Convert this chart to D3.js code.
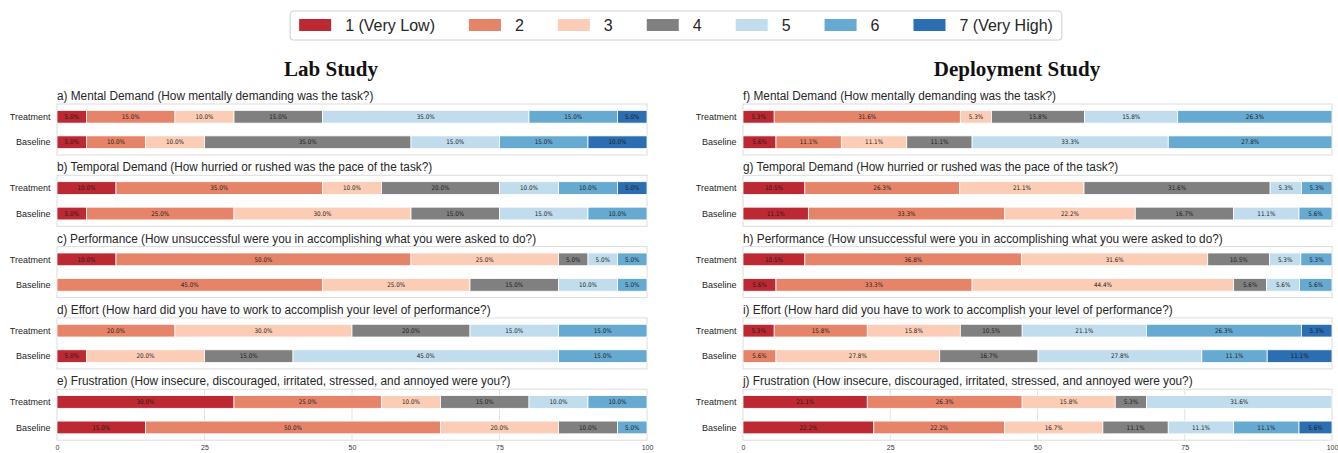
<!DOCTYPE html>
<html>
<head>
<meta charset="utf-8">
<script src="https://cdn.jsdelivr.net/npm/d3@7"></script>
<style>
body { margin: 0; background: #fff; }
svg { font-family: "Liberation Sans", Arial, sans-serif; }
.seg-label { font-family: "Liberation Sans Narrow", "DejaVu Sans Condensed", "Liberation Sans", sans-serif; font-stretch: condensed; }
</style>
</head>
<body>
<svg width="1338" height="453"></svg>
<script>
// rating levels + colours
const levels = ["1 (Very Low)", "2", "3", "4", "5", "6", "7 (Very High)"];
const colors = ["#bd2933", "#e6846a", "#fbcdb6", "#808080", "#c1dcec", "#66aad1", "#2b6fb2"];
const groups = ["Treatment", "Baseline"];
const xTicks = [0, 25, 50, 75, 100];

// Lab study
const labTitles = [
  "a) Mental Demand (How mentally demanding was the task?)",
  "b) Temporal Demand (How hurried or rushed was the pace of the task?)",
  "c) Performance (How unsuccessful were you in accomplishing what you were asked to do?)",
  "d) Effort (How hard did you have to work to accomplish your level of performance?)",
  "e) Frustration (How insecure, discouraged, irritated, stressed, and annoyed were you?)"
];
const labTreatment = [
  [5, 15, 10, 15, 35, 15, 5],
  [10, 35, 10, 20, 10, 10, 5],
  [10, 50, 25, 5, 5, 5, 0],
  [0, 20, 30, 20, 15, 15, 0],
  [30, 25, 10, 15, 10, 10, 0]
];
const labBaseline = [
  [5, 10, 10, 35, 15, 15, 10],
  [5, 25, 30, 15, 15, 10, 0],
  [0, 45, 25, 15, 10, 5, 0],
  [5, 0, 20, 15, 45, 15, 0],
  [15, 50, 20, 10, 0, 5, 0]
];

// Deployment study
const depTitles = [
  "f) Mental Demand (How mentally demanding was the task?)",
  "g) Temporal Demand (How hurried or rushed was the pace of the task?)",
  "h) Performance (How unsuccessful were you in accomplishing what you were asked to do?)",
  "i) Effort (How hard did you have to work to accomplish your level of performance?)",
  "j) Frustration (How insecure, discouraged, irritated, stressed, and annoyed were you?)"
];
const depTreatment = [
  [5.3, 31.6, 5.3, 15.8, 15.8, 26.3, 0],
  [10.5, 26.3, 21.1, 31.6, 5.3, 5.3, 0],
  [10.5, 36.8, 31.6, 10.5, 5.3, 5.3, 0],
  [5.3, 15.8, 15.8, 10.5, 21.1, 26.3, 5.3],
  [21.1, 26.3, 15.8, 5.3, 31.6, 0, 0]
];
const depBaseline = [
  [5.6, 11.1, 11.1, 11.1, 33.3, 27.8, 0],
  [11.1, 33.3, 22.2, 16.7, 11.1, 5.6, 0],
  [5.6, 33.3, 44.4, 5.6, 5.6, 5.6, 0],
  [0, 5.6, 27.8, 16.7, 27.8, 11.1, 11.1],
  [22.2, 22.2, 16.7, 11.1, 11.1, 11.1, 5.6]
];

const svg = d3.select("svg");
const color = d3.scaleOrdinal().domain(levels).range(colors);

const panelTop = 104, panelH = 51, pitch = 71.3;

function drawStudy(title, titleX, x0, x1, titles, treat, base) {
  const x = d3.scaleLinear().domain([0, 100]).range([x0, x1]);

  svg.append("text")
    .attr("x", titleX).attr("y", 76)
    .attr("text-anchor", "middle")
    .style("font-family", "'Liberation Serif', 'DejaVu Serif', serif")
    .style("font-weight", "bold")
    .style("font-size", "21px")
    .attr("fill", "#111")
    .text(title);

  titles.forEach(function(t, i) {
    const top = panelTop + i * pitch;
    const y = d3.scaleBand().domain(groups).range([top, top + panelH])
      .paddingInner(0.5).paddingOuter(0.25);
    const g = svg.append("g");

    // titles in the figure look squeezed sideways a bit
    g.append("text")
      .attr("transform", "translate(" + x0 + "," + (top - 4) + ") scale(0.945,1)")
      .style("font-size", "12.5px")
      .attr("fill", "#262626")
      .text(t);

    // bottom panel gets the grid + ticks
    if (i == titles.length - 1) {
      g.selectAll(".grid").data(xTicks.slice(1, -1)).enter()
        .append("line")
        .attr("x1", d => x(d)).attr("x2", d => x(d))
        .attr("y1", top).attr("y2", top + panelH)
        .attr("stroke", "#e3e3e3").attr("stroke-width", 1);

      const ax = g.append("g")
        .attr("transform", "translate(0," + (top + panelH) + ")")
        .call(d3.axisBottom(x).tickValues(xTicks).tickSize(0).tickPadding(5));
      ax.select(".domain").remove();
      ax.selectAll("text").style("font-size", "7px").attr("fill", "#333")
        .style("font-family", "'Liberation Sans', Arial, sans-serif");
    }

    g.append("rect")
      .attr("x", x0).attr("y", top)
      .attr("width", x1 - x0).attr("height", panelH)
      .attr("fill", "none").attr("stroke", "#dcdcdc").attr("stroke-width", 1);

    [treat[i], base[i]].forEach(function(vals, k) {
      const ends = d3.cumsum(vals);
      const segs = vals.map((v, j) => ({ v: v, start: ends[j] - v, end: ends[j], level: levels[j] }))
        .filter(d => d.v > 0);

      g.selectAll(".seg" + k).data(segs).enter()
        .append("rect")
        .attr("x", d => x(d.start))
        .attr("width", d => x(Math.min(d.end, 100)) - x(d.start))
        .attr("y", y(groups[k]))
        .attr("height", y.bandwidth())
        .attr("fill", d => color(d.level))
        .attr("stroke", "#fff").attr("stroke-width", 0.8);

      g.selectAll(".lab" + k).data(segs).enter()
        .append("text")
        .attr("class", "seg-label")
        .attr("x", d => x((d.start + Math.min(d.end, 100)) / 2))
        .attr("y", y(groups[k]) + y.bandwidth() / 2)
        .attr("dy", "0.35em")
        .attr("text-anchor", "middle")
        .style("font-size", "6.3px")
        .attr("fill", "#1a1a1a")
        .text(d => d.v.toFixed(1) + "%");

      g.append("text")
        .attr("x", x0 - 6.5)
        .attr("y", y(groups[k]) + y.bandwidth() / 2)
        .attr("dy", "0.35em")
        .attr("text-anchor", "end")
        .style("font-size", "9px")
        .attr("fill", "#262626")
        .text(groups[k]);
    });
  });
}

drawStudy("Lab Study", 331, 57, 647, labTitles, labTreatment, labBaseline);
drawStudy("Deployment Study", 1017, 743, 1332, depTitles, depTreatment, depBaseline);

// legend
const leg = svg.append("g");
const legBox = leg.append("rect")
  .attr("y", 11).attr("height", 29).attr("rx", 3)
  .attr("fill", "#fff").attr("stroke", "#d0d0d0").attr("stroke-width", 1);
let cx = 0;
const items = leg.append("g");
levels.forEach(function(l, i) {
  items.append("rect")
    .attr("x", cx).attr("y", 19).attr("width", 32).attr("height", 12)
    .attr("fill", color(l));
  const t = items.append("text")
    .attr("x", cx + 46).attr("y", 25.5).attr("dy", "0.35em")
    .style("font-size", "16px").attr("fill", "#262626")
    .text(l);
  cx += 46 + t.node().getComputedTextLength() + 34;
});
cx -= 34;
const legLeft = 676 - cx / 2;
items.attr("transform", "translate(" + legLeft + ",0)");
legBox.attr("x", legLeft - 9).attr("width", cx + 18);
</script>
</body>
</html>
